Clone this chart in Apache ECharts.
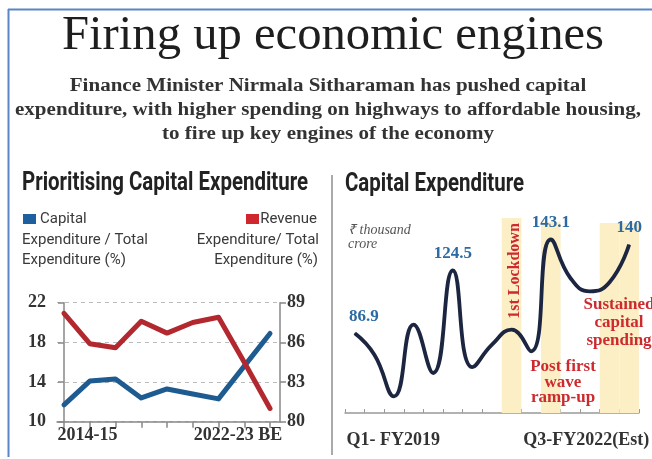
<!DOCTYPE html>
<html><head><meta charset="utf-8">
<script src="https://cdn.jsdelivr.net/npm/echarts@6/dist/echarts.min.js"></script>
<style>html,body{margin:0;padding:0;background:#fff}#c{width:652px;height:459px}</style>
</head><body><div id="c"></div>
<script>
// ---- data ----
const years = ['2014-15','2015-16','2016-17','2017-18','2018-19','2019-20','2020-21','2021-22','2022-23 BE'];
const capitalShare = [11.7, 14.1, 14.3, 12.4, 13.3, 12.8, 12.3, 15.6, 18.9];
const revenueShare = [88.2, 85.9, 85.6, 87.6, 86.7, 87.5, 87.9, 84.5, 81.0];
const leftTicks = [10, 14, 18, 22];
const rightTicks = [80, 83, 86, 89];
const quarters = ['Q1- FY2019','Q2-FY2019','Q3-FY2019','Q4-FY2019','Q1-FY2020','Q2-FY2020','Q3-FY2020','Q4-FY2020','Q1-FY2021','Q2-FY2021','Q3-FY2021','Q4-FY2021','Q1-FY2022','Q2-FY2022','Q3-FY2022(Est)'];
const capex = [86.9, 74, 49, 92, 63, 124.5, 66.5, 80, 89, 76, 143.1, 120, 112, 117.5, 140];
const labelledQuarters = [0, 5, 10, 14];
const bandTops = [null, null, null, null, null, null, null, null, 156, null, 153.5, null, null, 153, 153];

// ---- helpers ----
const mctx = document.createElement('canvas').getContext('2d');
function measure(text, font) { mctx.font = font; return mctx.measureText(text).width; }
const SERIF = '"Liberation Serif", serif';
const SANS = 'Roboto, "Noto Sans", sans-serif';
function txt(x, y, text, o) {
  return {
    type: 'text', x: x, y: y, scaleX: o.sx || 1, rotation: o.rotation || 0, z: 100, silent: true,
    style: {
      text: text, fontSize: o.size, fontFamily: o.family, fontWeight: o.weight || 'normal',
      fontStyle: o.fstyle || 'normal', fill: o.color || '#333',
      align: o.align || 'left', verticalAlign: o.va || 'middle',
      textAlign: o.align || 'left', textVerticalAlign: o.va || 'middle'
    }
  };
}

const titleText = 'Firing up economic engines';
const titleSx = 542 / measure(titleText, `normal 49px ${SERIF}`);
const subLines = ['Finance Minister Nirmala Sitharaman has pushed capital',
  'expenditure, with higher spending on highways to affordable housing,',
  'to fire up key engines of the economy'];
const subSx = 626 / measure(subLines[1], `bold 18px ${SERIF}`);
const panelTitleL = 'Prioritising Capital Expenditure';
const panelSx = 286 / measure(panelTitleL, `bold 26px ${SANS}`);

const graphics = [
  { type: 'line', shape: { x1: 8, y1: 9.5, x2: 652, y2: 9.5 }, style: { stroke: '#5a86c8', lineWidth: 2 }, silent: true },
  { type: 'line', shape: { x1: 8.5, y1: 9, x2: 8.5, y2: 457 }, style: { stroke: '#5a86c8', lineWidth: 2 }, silent: true },
  { type: 'line', shape: { x1: 332, y1: 175, x2: 332, y2: 455 }, style: { stroke: '#aaaaaa', lineWidth: 2 }, silent: true },
  txt(333, 36, titleText, { size: 49, family: SERIF, color: '#1e1e1e', align: 'center', sx: titleSx }),
  txt(328, 86, subLines[0], { size: 18, family: SERIF, weight: 'bold', color: '#333', align: 'center', sx: subSx }),
  txt(328, 110, subLines[1], { size: 18, family: SERIF, weight: 'bold', color: '#333', align: 'center', sx: subSx }),
  txt(328, 134, subLines[2], { size: 18, family: SERIF, weight: 'bold', color: '#333', align: 'center', sx: subSx }),
  txt(22, 183, panelTitleL, { size: 26, family: SANS, weight: 'bold', color: '#222', sx: panelSx }),
  txt(345, 184, 'Capital Expenditure', { size: 26, family: SANS, weight: 'bold', color: '#222', sx: panelSx }),
  // legends
  { type: 'rect', shape: { x: 23, y: 214, width: 13, height: 10 }, style: { fill: '#1e5f9f' }, silent: true },
  txt(40, 219, 'Capital', { size: 15, family: SANS, color: '#3a3a3a' }),
  txt(22, 240, 'Expenditure / Total', { size: 15, family: SANS, color: '#3a3a3a' }),
  txt(22, 260, 'Expenditure (%)', { size: 15, family: SANS, color: '#3a3a3a' }),
  { type: 'rect', shape: { x: 246, y: 214, width: 13, height: 10 }, style: { fill: '#d0262e' }, silent: true },
  txt(317, 219, 'Revenue', { size: 15, family: SANS, color: '#3a3a3a', align: 'right' }),
  txt(319, 240, 'Expenditure/ Total', { size: 15, family: SANS, color: '#3a3a3a', align: 'right' }),
  txt(318, 260, 'Expenditure (%)', { size: 15, family: SANS, color: '#3a3a3a', align: 'right' }),
  // right panel notes
  txt(348, 230, '₹ thousand', { size: 14, family: SERIF, fstyle: 'italic', color: '#555' }),
  txt(348, 244, 'crore', { size: 14, family: SERIF, fstyle: 'italic', color: '#555' }),
  txt(515, 271, '1st Lockdown', { size: 16, family: SERIF, weight: 'bold', color: '#cc2a2f', align: 'center', rotation: Math.PI / 2 }),
  txt(563, 367, 'Post first', { size: 17, family: SERIF, weight: 'bold', color: '#cc2a2f', align: 'center' }),
  txt(563, 383, 'wave', { size: 17, family: SERIF, weight: 'bold', color: '#cc2a2f', align: 'center' }),
  txt(563, 398, 'ramp-up', { size: 17, family: SERIF, weight: 'bold', color: '#cc2a2f', align: 'center' }),
  txt(619, 305, 'Sustained', { size: 17, family: SERIF, weight: 'bold', color: '#cc2a2f', align: 'center' }),
  txt(619, 323, 'capital', { size: 17, family: SERIF, weight: 'bold', color: '#cc2a2f', align: 'center' }),
  txt(619, 341, 'spending', { size: 17, family: SERIF, weight: 'bold', color: '#cc2a2f', align: 'center' })
];

const axisLabelFont = { fontFamily: SERIF, fontWeight: 'bold', fontSize: 18, color: '#333' };

const chart = echarts.init(document.getElementById('c'), null, { renderer: 'canvas' });
chart.setOption({
  animation: false,
  backgroundColor: '#fff',
  graphic: graphics,
  grid: [
    { left: 57, right: 652 - 280, top: 302.7, bottom: 459 - 421.7 },
    { left: 345, right: 652 - 643, top: 218, bottom: 459 - 413 }
  ],
  xAxis: [
    {
      type: 'value', gridIndex: 0, min: -0.272, max: 8.388,
      axisLine: { show: true, lineStyle: { color: '#888', width: 1.5 } },
      axisTick: { show: true, length: 6, lineStyle: { color: '#888', width: 1.5 }, customValues: years.map((_, i) => i) },
      splitLine: { show: false },
      axisLabel: {
        margin: 5, customValues: [0, years.length - 1],
        formatter: v => v === 0 ? '{a|' + years[0] + '}' : '{b|' + years[years.length - 1] + '}',
        rich: {
          a: Object.assign({ padding: [0, 0, 0, 47] }, axisLabelFont),
          b: Object.assign({ padding: [0, 64, 0, 0] }, axisLabelFont)
        }
      }
    },
    {
      type: 'category', gridIndex: 1, data: quarters, boundaryGap: true,
      axisLine: { show: true, lineStyle: { color: '#999', width: 1.5 } },
      axisTick: { show: true, inside: true, length: 4, lineStyle: { color: '#999' } },
      axisLabel: {
        interval: 0, margin: 18,
        formatter: (v, i) => i === 0 ? '{a|' + v + '}' : (i === quarters.length - 1 ? '{b|' + v + '}' : ''),
        rich: {
          a: Object.assign({ padding: [0, 0, 0, 77] }, axisLabelFont),
          b: Object.assign({ padding: [0, 86, 0, 0] }, axisLabelFont)
        }
      }
    }
  ],
  yAxis: [
    {
      type: 'value', gridIndex: 0, min: leftTicks[0], max: leftTicks[leftTicks.length - 1], interval: leftTicks[1] - leftTicks[0],
      axisLine: { show: true, lineStyle: { color: '#888', width: 1.5 } },
      axisTick: { show: true, length: 6, lineStyle: { color: '#888', width: 1.5 } },
      splitLine: { show: true, lineStyle: { color: '#bbb', type: [4, 4], width: 1 } },
      axisLabel: Object.assign({ margin: 11 }, axisLabelFont)
    },
    {
      type: 'value', gridIndex: 0, position: 'right', min: rightTicks[0], max: rightTicks[rightTicks.length - 1], interval: rightTicks[1] - rightTicks[0],
      axisLine: { show: true, lineStyle: { color: '#888', width: 1.5 } },
      axisTick: { show: true, length: 6, lineStyle: { color: '#888', width: 1.5 } },
      splitLine: { show: false },
      axisLabel: Object.assign({ margin: 7 }, axisLabelFont)
    },
    { type: 'value', gridIndex: 1, min: 39, max: 156, show: false, splitLine: { show: false } }
  ],
  series: [
    {
      type: 'line', xAxisIndex: 0, yAxisIndex: 0, data: capitalShare.map((v, i) => [i, v]),
      symbol: 'none', lineStyle: { color: '#1e5b90', width: 5, cap: 'round', join: 'round' }, z: 3
    },
    {
      type: 'line', xAxisIndex: 0, yAxisIndex: 1, data: revenueShare.map((v, i) => [i, v]),
      symbol: 'none', lineStyle: { color: '#b3282e', width: 5, cap: 'round', join: 'round' }, z: 4
    },
    {
      type: 'bar', xAxisIndex: 1, yAxisIndex: 2, data: bandTops, barWidth: '100%', silent: true,
      itemStyle: { color: '#fcefc6' }, z: 1
    },
    {
      type: 'line', xAxisIndex: 1, yAxisIndex: 2, smooth: true, z: 5,
      symbol: 'circle', symbolSize: 1, showSymbol: true, showAllSymbol: true,
      itemStyle: { color: '#1c2640' },
      lineStyle: { color: '#1c2640', width: 3.8 },
      data: capex.map((v, i) => labelledQuarters.includes(i) ? {
        value: v,
        label: {
          show: true, position: 'top', distance: 8, offset: i === 0 ? [9, 0] : [0, 0],
          fontFamily: SERIF, fontWeight: 'bold', fontSize: 17, color: '#2c6aa3'
        }
      } : v)
    }
  ]
});
</script></body></html>
